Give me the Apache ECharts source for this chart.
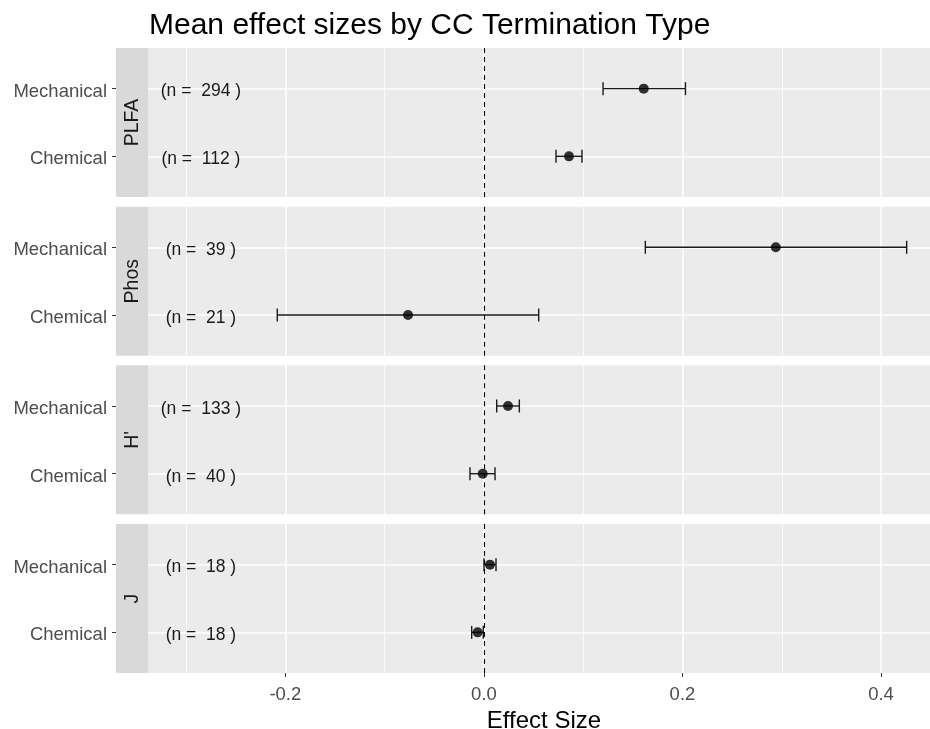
<!DOCTYPE html>
<html>
<head>
<meta charset="utf-8">
<script src="https://cdn.jsdelivr.net/npm/echarts@6/dist/echarts.min.js"></script>
<style>
html,body{margin:0;padding:0;background:#fff;}
#c{width:930px;height:729px;}
</style>
</head>
<body>
<div id="c"></div>
<script>
// ---- data ----
const panels = ['PLFA', 'Phos', "H'", 'J'];
const categories = ['Chemical', 'Mechanical'];
const meanMech = [0.161, 0.294, 0.0243, 0.0061];
const lowMech  = [0.120, 0.1626, 0.0129, 0.0001];
const highMech = [0.203, 0.4258, 0.0357, 0.0122];
const meanChem = [0.0857, -0.0764, -0.0012, -0.0063];
const lowChem  = [0.0726, -0.2081, -0.014, -0.0123];
const highChem = [0.0988, 0.0552, 0.0112, -0.0006];
const nMech = [294, 39, 133, 18];
const nChem = [112, 21, 40, 18];
const nLabelX = -0.285;
const xMajorTicks = [-0.2, 0, 0.2, 0.4];
const xMinorTicks = [-0.3, -0.1, 0.1, 0.3];
const refLineX = 0;
const xMin = -0.3383, xMax = 0.4493;

// ---- layout ----
const FONT = '"Liberation Sans", Arial, sans-serif';
const gridLeft = 148, stripW = 32, panelH = 149, firstTop = 48, step = 158.67;

const chart = echarts.init(document.getElementById('c'), null, {renderer: 'canvas'});

const grids = [], xAxes = [], yAxes = [], series = [], graphics = [];
panels.forEach((p, i) => {
  const top = firstTop + i * step;
  const last = i === panels.length - 1;
  grids.push({left: gridLeft, right: 0, top: top, height: panelH, show: true,
    backgroundColor: '#ebebeb', borderWidth: 0, containLabel: false, outerBoundsMode: 'none'});
  // major x axis
  xAxes.push({type: 'value', gridIndex: i, min: xMin, max: xMax, position: 'bottom',
    axisLine: {show: false, onZero: false},
    axisTick: {show: last, customValues: xMajorTicks, length: 4, lineStyle: {color: '#333', width: 1}},
    axisLabel: {show: last, customValues: xMajorTicks, margin: 12, fontSize: 18.5, color: '#4d4d4d',
      fontFamily: FONT, formatter: v => Number(v).toFixed(1)},
    splitLine: {show: true, lineStyle: {color: '#ffffff', width: 1.5}},
    name: last ? 'Effect Size' : '', nameLocation: 'middle', nameGap: 36,
    nameTextStyle: {fontSize: 24, color: '#000', fontFamily: FONT, padding: [0, 0, 0, 10]}
  });
  // minor x axis (grid lines only)
  xAxes.push({type: 'value', gridIndex: i, min: xMin, max: xMax, position: 'bottom',
    axisLine: {show: false, onZero: false}, axisTick: {show: false, customValues: xMinorTicks},
    axisLabel: {show: false, customValues: xMinorTicks},
    splitLine: {show: true, lineStyle: {color: '#ffffff', width: 0.8}}
  });
  yAxes.push({type: 'value', gridIndex: i, min: -0.6, max: 1.6, offset: stripW, position: 'left',
    axisLine: {show: false, onZero: false},
    axisTick: {show: true, customValues: [0, 1], length: 4, lineStyle: {color: '#333', width: 1}},
    axisLabel: {show: true, customValues: [0, 1], margin: 9, fontSize: 18.5, color: '#4d4d4d',
      fontFamily: FONT, verticalAlign: 'top', lineHeight: 6, formatter: v => categories[Math.round(v)]},
    splitLine: {show: true, lineStyle: {color: '#ffffff', width: 1.5}}
  });
  const xi = i * 2;
  // error bars
  series.push({type: 'custom', xAxisIndex: xi, yAxisIndex: i, z: 3, silent: true,
    data: [[lowChem[i], highChem[i], 0], [lowMech[i], highMech[i], 1]],
    encode: {x: [0, 1], y: 2},
    renderItem: (params, api) => {
      const y = api.value(2);
      const a = api.coord([api.value(0), y]);
      const b = api.coord([api.value(1), y]);
      const h = 6.5;
      const st = {stroke: '#1a1a1a', lineWidth: 1.4};
      return {type: 'group', children: [
        {type: 'line', shape: {x1: a[0], y1: a[1], x2: b[0], y2: b[1]}, style: st},
        {type: 'line', shape: {x1: a[0], y1: a[1] - h, x2: a[0], y2: a[1] + h}, style: st},
        {type: 'line', shape: {x1: b[0], y1: b[1] - h, x2: b[0], y2: b[1] + h}, style: st}
      ]};
    }
  });
  // points + reference line
  series.push({type: 'scatter', xAxisIndex: xi, yAxisIndex: i, z: 4, silent: true,
    symbol: 'circle', symbolSize: 10, itemStyle: {color: '#000'},
    data: [[meanChem[i], 0], [meanMech[i], 1]],
    markLine: {silent: true, symbol: 'none', label: {show: false},
      lineStyle: {type: [5, 4], color: '#000', width: 1.1}, animation: false,
      data: [{xAxis: refLineX}]}
  });
  // n labels
  series.push({type: 'scatter', xAxisIndex: xi, yAxisIndex: i, z: 5, silent: true,
    symbolSize: 0, itemStyle: {opacity: 0},
    data: [[nLabelX, 0, nChem[i]], [nLabelX, 1, nMech[i]]],
    label: {show: true, position: 'inside', offset: [0, 3], fontSize: 17.5, color: '#1a1a1a', opacity: 1,
      fontFamily: FONT, formatter: d => '(n =  ' + d.value[2] + ' )'}
  });
  // strip
  graphics.push({type: 'rect', silent: true, shape: {x: gridLeft - stripW, y: top, width: stripW, height: panelH},
    style: {fill: '#d9d9d9'}, z: 0});
  graphics.push({type: 'text', silent: true, x: gridLeft - stripW / 2 + 1, y: top + panelH / 2, rotation: Math.PI / 2,
    style: {text: p, fontSize: 19.5, fontFamily: FONT, fill: '#1a1a1a', textAlign: 'center', textVerticalAlign: 'middle'}, z: 1});
});

chart.setOption({
  animation: false,
  backgroundColor: '#ffffff',
  title: {text: 'Mean effect sizes by CC Termination Type', left: 149, top: 11, padding: 0,
    textStyle: {fontSize: 30, fontWeight: 'normal', color: '#000', fontFamily: FONT}},
  grid: grids, xAxis: xAxes, yAxis: yAxes, series: series, graphic: graphics
});
</script>
</body>
</html>
